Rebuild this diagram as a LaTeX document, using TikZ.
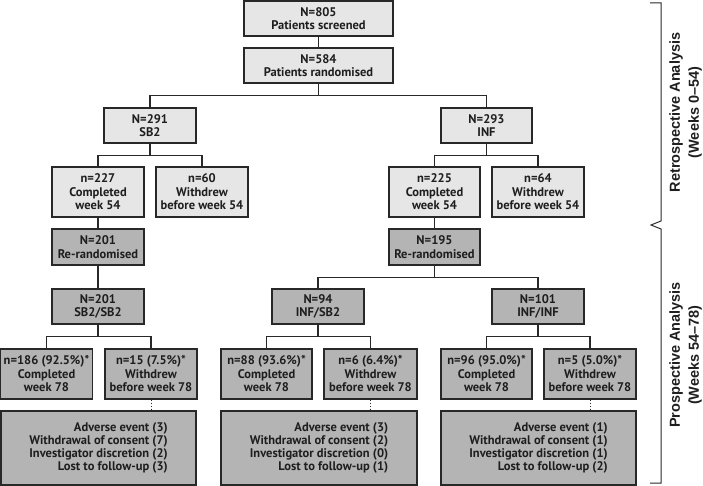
\documentclass[tikz,border=0pt]{standalone}
\usepackage{fontspec}
\setmainfont{PT Sans}
\newfontfamily\brfont[BoldFont={Liberation Sans Bold}]{Liberation Sans}
\definecolor{lightg}{RGB}{230,230,230}
\definecolor{darkg}{RGB}{180,180,180}
\definecolor{linec}{RGB}{40,40,40}
\definecolor{txt}{RGB}{30,30,30}
\begin{document}
\begin{tikzpicture}[x=1pt,y=-1pt,
  box/.style={draw=linec, line width=1.1pt, align=center, inner sep=0pt, text=txt,
    font=\bfseries\fontsize{12.5}{13.5}\selectfont},
  lbox/.style={box, fill=lightg},
  dbox/.style={box, fill=darkg},
  sz/.style n args={2}{minimum width=#1pt, minimum height=#2pt},
  conn/.style={draw=linec, line width=1.1pt},
  detail/.style={dbox, align=right, font=\bfseries\fontsize{12.5}{13.2}\selectfont},
  brlabel/.style={rotate=90, align=center, text=txt, font=\brfont\bfseries\fontsize{14.5}{19}\selectfont}
]
\useasboundingbox (0,0) rectangle (703,486);

% top section
\node[lbox, sz={149}{35}] (scr) at (318.5,18.5) {N=805\\Patients screened};
\node[lbox, sz={149}{35}] (rand) at (318.5,65.5) {N=584\\Patients randomised};
\node[lbox, sz={92}{35}] (sb2) at (150,125.5) {N=291\\SB2};
\node[lbox, sz={91}{35}] (inf) at (486.5,125.5) {N=293\\INF};
\node[lbox, sz={92}{50}] (sbc) at (98,192) {n=227\\Completed\\week 54};
\node[lbox, sz={92}{50}] (sbw) at (202,192) {n=60\\Withdrew\\before week 54};
\node[lbox, sz={91}{50}] (infc) at (434.5,192) {n=225\\Completed\\week 54};
\node[lbox, sz={92}{50}] (infw) at (538,192) {n=64\\Withdrew\\before week 54};

% prospective
\node[dbox, sz={92}{36}] (sbr) at (98,247) {N=201\\Re-randomised};
\node[dbox, sz={91}{36}] (infr) at (434.5,247) {N=195\\Re-randomised};
\node[dbox, sz={92}{35}] (ss) at (98,306.5) {N=201\\SB2/SB2};
\node[dbox, sz={92}{35}] (is) at (318,306.5) {N=94\\INF/SB2};
\node[dbox, sz={92}{35}] (ii) at (538,306.5) {N=101\\INF/INF};

\node[dbox, sz={92}{50}] (ssc) at (46.5,374) {n=186 (92.5\%)*\\Completed\\week 78};
\node[dbox, sz={92}{50}] (ssw) at (151,374) {n=15 (7.5\%)*\\Withdrew\\before week 78};
\node[dbox, sz={91}{50}] (isc) at (266.5,374) {n=88 (93.6\%)*\\Completed\\week 78};
\node[dbox, sz={93}{50}] (isw) at (370.5,374) {n=6 (6.4\%)*\\Withdrew\\before week 78};
\node[dbox, sz={91}{50}] (iic) at (486.5,374) {n=96 (95.0\%)*\\Completed\\week 78};
\node[dbox, sz={92}{50}] (iiw) at (590,374) {n=5 (5.0\%)*\\Withdrew\\before week 78};

\node[detail, sz={195}{74}] (ssd) at (98.5,448) {Adverse event (3)\\Withdrawal of consent (7)\\Investigator discretion (2)\\Lost to follow-up (3)};
\node[detail, sz={196}{74}] (isd) at (319,448) {Adverse event (3)\\Withdrawal of consent (2)\\Investigator discretion (0)\\Lost to follow-up (1)};
\node[detail, sz={195}{74}] (iid) at (538.5,448) {Adverse event (1)\\Withdrawal of consent (1)\\Investigator discretion (1)\\Lost to follow-up (2)};

% connectors
\draw[conn] (scr) -- (rand);
\draw[conn] (rand.south) -- ++(0,12) -| (sb2.north);
\draw[conn] (rand.south) -- ++(0,12) -| (inf.north);
\draw[conn] (sb2.south) -- ++(0,12) -| (sbc.north);
\draw[conn] (sb2.south) -- ++(0,12) -| (sbw.north);
\draw[conn] (inf.south) -- ++(0,12) -| (infc.north);
\draw[conn] (inf.south) -- ++(0,12) -| (infw.north);
\draw[conn] (sbc) -- (sbr);
\draw[conn] (infc) -- (infr);
\draw[conn] (sbr) -- (ss);
\draw[conn] (infr.south) -- ++(0,12) -| (is.north);
\draw[conn] (infr.south) -- ++(0,12) -| (ii.north);
\draw[conn] (ss.south) -- ++(0,12) -| (ssc.north);
\draw[conn] (ss.south) -- ++(0,12) -| (ssw.north);
\draw[conn] (is.south) -- ++(0,12) -| (isc.north);
\draw[conn] (is.south) -- ++(0,12) -| (isw.north);
\draw[conn] (ii.south) -- ++(0,12) -| (iic.north);
\draw[conn] (ii.south) -- ++(0,12) -| (iiw.north);
\draw[draw=linec, line width=1pt, dotted] (ssw.south) -- (ssw.south |- ssd.north);
\draw[draw=linec, line width=1pt, dotted] (isw.south) -- (isw.south |- isd.north);
\draw[draw=linec, line width=1pt, dotted] (iiw.south) -- (iiw.south |- iid.north);

% brackets
\coordinate (btop) at (650,3);
\coordinate (bmid) at (651,225);
\coordinate (bbot) at (650,483);
\draw[draw=linec, line width=1pt] (btop) -| (661,221) -- (bmid) -- (661,229) |- (bbot);
\node[brlabel] (retro) at (685.5,112.5) {Retrospective Analysis\\(Weeks 0–54)};
\node[brlabel] (prosp) at (685.5,355) {Prospective Analysis\\(Weeks 54–78)};
\end{tikzpicture}
\end{document}
